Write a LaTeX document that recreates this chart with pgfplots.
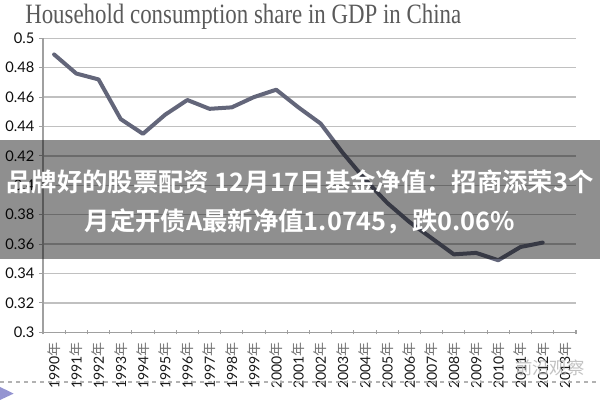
\documentclass[border=0pt]{standalone}
\usepackage{pgfplots}
\pgfplotsset{compat=1.18}
\usepackage{fontspec}
\setmainfont{Liberation Serif}
\newfontfamily\tickfont{Lato}
\newfontfamily\cjk{Noto Sans CJK SC}[BoldFont={Noto Sans CJK SC Bold}]
\newcommand\nian{{\cjk\color{black!55}年}}

\definecolor{linecol}{RGB}{99,102,122}
\definecolor{gridcol}{RGB}{192,192,192}
\definecolor{axiscol}{RGB}{160,160,160}
\definecolor{titlecol}{RGB}{90,90,90}

\pgfplotstableread{
idx year share
0  1990 0.489
1  1991 0.476
2  1992 0.472
3  1993 0.445
4  1994 0.435
5  1995 0.448
6  1996 0.458
7  1997 0.452
8  1998 0.453
9  1999 0.460
10 2000 0.465
11 2001 0.453
12 2002 0.442
13 2003 0.422
14 2004 0.404
15 2005 0.388
16 2006 0.375
17 2007 0.364
18 2008 0.353
19 2009 0.354
20 2010 0.349
21 2011 0.358
22 2012 0.361
}\sharetable

\begin{document}
\begin{tikzpicture}
% 600x400 px page, 1 px = 0.75 pt, origin at lower left of plot area
\useasboundingbox (-32.25pt,-50.8pt) rectangle (417.75pt,249.2pt);
\begin{axis}[
  scale only axis,
  width=399.75pt, height=220.5pt,
  xmin=-0.5, xmax=23.5,
  ymin=0.3, ymax=0.5,
  axis x line*=bottom,
  axis y line*=left,
  axis line style={axiscol, line width=0.8pt},
  xtick={-0.5,0.5,...,23.5},
  x tick label as interval,
  xticklabels={1990\nian,1991\nian,1992\nian,1993\nian,1994\nian,1995\nian,
    1996\nian,1997\nian,1998\nian,1999\nian,2000\nian,2001\nian,2002\nian,
    2003\nian,2004\nian,2005\nian,2006\nian,2007\nian,2008\nian,2009\nian,
    2010\nian,2011\nian,2012\nian,2013\nian},
  xticklabel style={rotate=90, anchor=east, font=\fontsize{10.5}{11}\tickfont, text=black!90},
  xticklabel shift=2.5pt,
  ytick={0.3,0.32,0.34,0.36,0.38,0.4,0.42,0.44,0.46,0.48,0.5},
  yticklabels={0.3,0.32,0.34,0.36,0.38,0.4,0.42,0.44,0.46,0.48,0.5},
  yticklabel style={font=\fontsize{11}{12}\tickfont, text=black!95},
  major tick length=3pt,
  tick style={axiscol, line width=0.8pt},
  xtick align=center,
  ytick align=outside,
  ymajorgrids,
  grid style={gridcol, line width=1pt},
  clip=false,
]
\addplot[linecol, line width=3pt, line join=round, line cap=round] table[x=idx, y=share] {\sharetable};
\end{axis}

% title
\node[anchor=base west, text=titlecol, inner sep=0pt] at (-13.5pt,231.5pt)
  {\resizebox{327pt}{\height}{\fontsize{21}{22}\selectfont Household consumption share in GDP in China}};

% dashed line below labels
\draw[black!30, dashed, line width=0.8pt] (-32.25pt,-37.3pt) -- (417.75pt,-37.3pt);

% watermark
\node[text=black!30, opacity=0.8, font=\fontsize{13}{14}\cjk] at (380pt,-27pt) {前沿观察};

% corner mark
\fill[gray!60!blue!60] (-32.25pt,-41pt) -- (-22pt,-46pt) -- (-32.25pt,-50.8pt) -- cycle;

% banner overlay
\fill[black, fill opacity=0.44] (-32.25pt,55pt) rectangle (417.75pt,144.2pt);
\node[text=white, font=\fontsize{19}{20}\cjk\bfseries, inner sep=0pt] at (192.75pt,113pt)
  {品牌好的股票配资 12月17日基金净值：招商添荣3个};
\node[text=white, font=\fontsize{19}{20}\cjk\bfseries, inner sep=0pt] at (192.75pt,83pt)
  {月定开债A最新净值1.0745，跌0.06\%};
\end{tikzpicture}
\end{document}
